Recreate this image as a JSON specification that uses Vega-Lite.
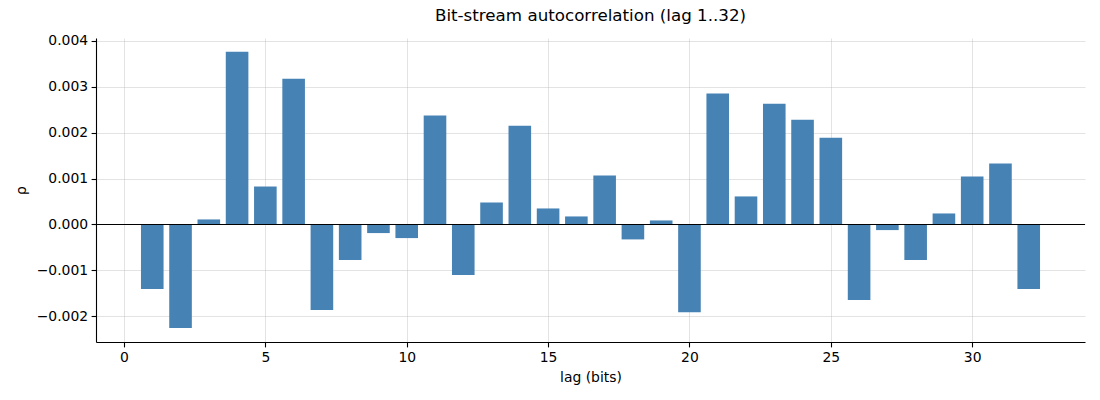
{
  "$schema": "https://vega.github.io/schema/vega-lite/v6.json",
  "width": 989,
  "height": 304,
  "autosize": "none",
  "padding": {"left": 96, "top": 38, "right": 15, "bottom": 58},
  "background": "white",
  "title": {
    "text": "Bit-stream autocorrelation (lag 1..32)",
    "font": "DejaVu Sans",
    "fontSize": 16.7,
    "fontWeight": "normal",
    "color": "black",
    "anchor": "middle",
    "offset": 9
  },
  "config": {
    "view": {"stroke": null},
    "axis": {
      "labelFont": "DejaVu Sans",
      "labelFontSize": 13.9,
      "labelColor": "black",
      "titleFont": "DejaVu Sans",
      "titleFontSize": 13.9,
      "titleFontWeight": "normal",
      "titleColor": "black",
      "domainColor": "black",
      "domainWidth": 1.1,
      "tickColor": "black",
      "tickWidth": 1.1,
      "tickSize": 4.9,
      "labelPadding": 3.5,
      "gridColor": "#b0b0b0",
      "gridOpacity": 0.35,
      "gridWidth": 1,
      "zindex": 1
    }
  },
  "data": {
    "values": [
      {"lag": 1, "rho": -0.001406},
      {"lag": 2, "rho": -0.002254},
      {"lag": 3, "rho": 0.000109},
      {"lag": 4, "rho": 0.00376},
      {"lag": 5, "rho": 0.000826},
      {"lag": 6, "rho": 0.003174},
      {"lag": 7, "rho": -0.001862},
      {"lag": 8, "rho": -0.000775},
      {"lag": 9, "rho": -0.000188},
      {"lag": 10, "rho": -0.000297},
      {"lag": 11, "rho": 0.00237},
      {"lag": 12, "rho": -0.0011},
      {"lag": 13, "rho": 0.000478},
      {"lag": 14, "rho": 0.00215},
      {"lag": 15, "rho": 0.000348},
      {"lag": 16, "rho": 0.000174},
      {"lag": 17, "rho": 0.001065},
      {"lag": 18, "rho": -0.000326},
      {"lag": 19, "rho": 0.000087},
      {"lag": 20, "rho": -0.00191},
      {"lag": 21, "rho": 0.00285},
      {"lag": 22, "rho": 0.00061},
      {"lag": 23, "rho": 0.00263},
      {"lag": 24, "rho": 0.00228},
      {"lag": 25, "rho": 0.00189},
      {"lag": 26, "rho": -0.001645},
      {"lag": 27, "rho": -0.000123},
      {"lag": 28, "rho": -0.000775},
      {"lag": 29, "rho": 0.000239},
      {"lag": 30, "rho": 0.001043},
      {"lag": 31, "rho": 0.001326},
      {"lag": 32, "rho": -0.001406}
    ]
  },
  "layer": [
    {
      "mark": {"type": "bar", "color": "#4682b4", "size": 22.6},
      "encoding": {
        "x": {
          "field": "lag",
          "type": "quantitative",
          "scale": {"domain": [-0.99, 33.99], "nice": false, "zero": false, "padding": 0},
          "axis": {"values": [0, 5, 10, 15, 20, 25, 30], "title": "lag (bits)", "titlePadding": 6, "format": "d"}
        },
        "y": {
          "field": "rho",
          "type": "quantitative",
          "scale": {"domain": [-0.00256, 0.00406], "nice": false, "zero": false, "padding": 0},
          "axis": {"values": [-0.002, -0.001, 0, 0.001, 0.002, 0.003, 0.004], "format": ".3f", "title": "ρ", "titlePadding": 8}
        }
      }
    },
    {
      "mark": {"type": "rule", "color": "black", "strokeWidth": 1.1},
      "encoding": {"y": {"datum": 0}}
    }
  ]
}
